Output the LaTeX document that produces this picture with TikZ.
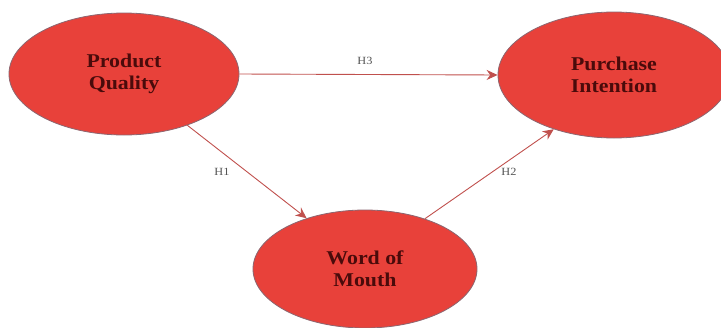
\documentclass[tikz,border=0pt]{standalone}
\usepackage{fontspec}
\setmainfont{Liberation Serif}
\newfontfamily\widefont[FakeStretch=1.12]{Liberation Serif}
\usetikzlibrary{shapes.geometric,arrows.meta}
\definecolor{ellfill}{HTML}{E8413A}
\definecolor{elldraw}{HTML}{8C6670}
\definecolor{txtcol}{HTML}{4A0B0B}
\definecolor{linecol}{HTML}{C0504D}
\definecolor{lblcol}{HTML}{555555}
\begin{document}
\begin{tikzpicture}[x=1pt,y=-1pt,
  construct/.style={ellipse, fill=ellfill, draw=elldraw, line width=0.8pt, inner sep=0pt,
    text=txtcol, font=\widefont\fontsize{19.5}{22}\selectfont\bfseries, align=center},
  link/.style={draw=linecol, line width=0.9pt, -{Stealth[length=11pt,width=10pt]}},
  hlabel/.style={text=lblcol, font=\widefont\fontsize{11}{13}\selectfont}]
\useasboundingbox (0,0) rectangle (721,327);
\node[construct, minimum width=230pt, minimum height=122pt] (pq) at (124,74) {Product\\Quality};
\node[construct, minimum width=232pt, minimum height=126pt] (pi) at (614,75) {Purchase\\Intention};
\node[construct, minimum width=224pt, minimum height=118pt] (wom) at (365,269) {Word of\\Mouth};
\draw[link] (pq.east) -- (pi.west);
\draw[link] (pq.-39) -- (wom.139);
\draw[link] (wom.40) -- (pi.222);
\node[hlabel] (h3) at (365,61) {H3};
\node[hlabel] (h1) at (222,172) {H1};
\node[hlabel] (h2) at (509,172) {H2};
\end{tikzpicture}
\end{document}
